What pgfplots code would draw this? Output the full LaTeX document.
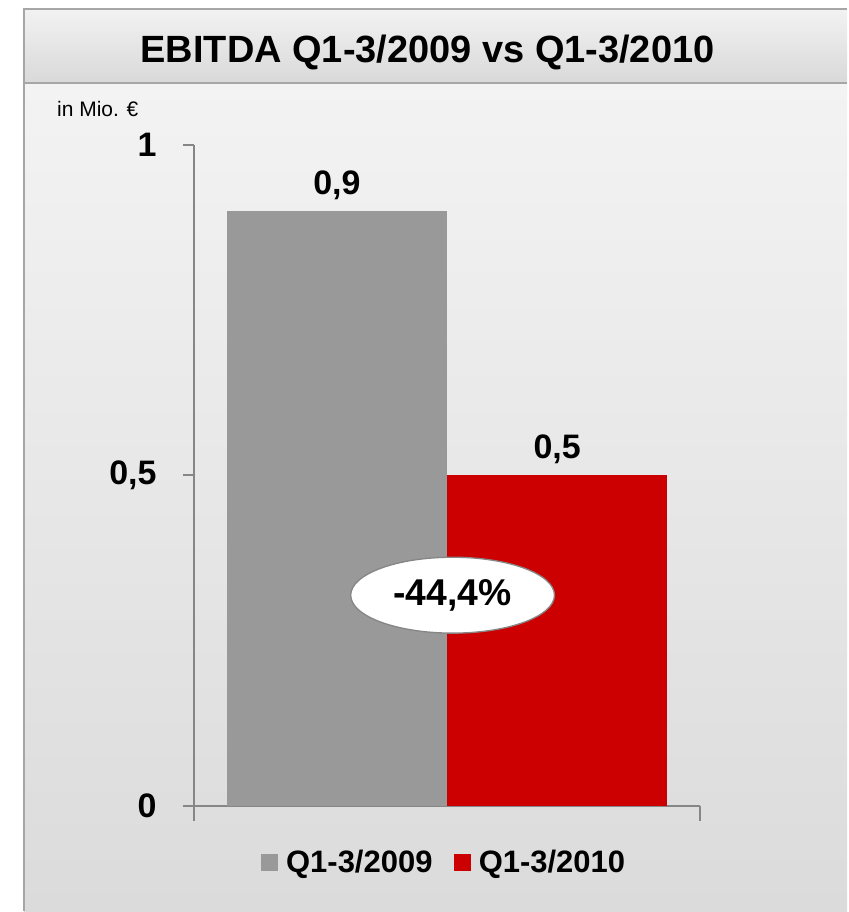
\documentclass[border=0pt]{standalone}
\usepackage{pgfplots}
\pgfplotsset{compat=1.18}
\usepackage{fontspec}
\setmainfont{Liberation Sans}
\usetikzlibrary{shapes.geometric}
\definecolor{axgray}{HTML}{868686}
\definecolor{bargray}{HTML}{999999}
\definecolor{barred}{HTML}{CC0000}
\definecolor{framegray}{HTML}{A6A6A6}
\definecolor{bgtop}{HTML}{F3F3F3}
\definecolor{bgbot}{HTML}{DBDBDB}
\definecolor{ttop}{HTML}{F2F2F2}
\definecolor{tbot}{HTML}{D9D9D9}
\begin{document}
\begin{tikzpicture}
\begin{scope}[x=0.75pt,y=-0.75pt]
\fill[white] (0,0) rectangle (848,912);
\shade[top color=bgtop, bottom color=bgbot] (24,83) rectangle (848,912);
\shade[top color=ttop, bottom color=tbot] (24,9) rectangle (848,83);
\draw[framegray, line width=1.5pt] (24,912) -- (24,9) -- (848,9);
\draw[framegray, line width=1.5pt] (24,83) -- (848,83);
\end{scope}
\begin{axis}[
  at={(145.5pt,-605.25pt)}, anchor=south west,
  scale only axis, width=380.25pt, height=496.5pt,
  xmin=0, xmax=1, ymin=0, ymax=1,
  axis x line*=bottom, axis y line*=left,
  axis line style={axgray, line width=1.5pt},
  xtick={0,1}, xticklabels={{},{}},
  ytick={0,0.5,1}, yticklabels={0,{0,5},1},
  tick align=outside, major tick length=8.25pt,
  xtick style={/pgfplots/major tick length=11.25pt},
  tick style={axgray, line width=1.5pt},
  yticklabel style={font=\fontsize{25.5}{30}\selectfont\bfseries, inner sep=0pt, anchor=east, xshift=-19.5pt},
  /pgf/number format/assume math mode=true,
  clip=false,
  legend columns=2,
  legend style={at={(rel axis cs:0.495,-0.0846)}, anchor=center, draw=none, fill=none,
    font=\fontsize{23.25}{28}\selectfont\bfseries,
    /tikz/every odd column/.append style={column sep=4pt},
    /tikz/every even column/.append style={column sep=14pt}},
  legend image code/.code={\fill[#1] (0pt,-6.4pt) rectangle (12.75pt,6.4pt);},
]
\addplot[ybar, bar shift=0pt, bar width=0.435, fill=bargray, draw=none,
  point meta=explicit symbolic, nodes near coords,
  nodes near coords style={font=\fontsize{25.5}{30}\selectfont\bfseries, anchor=south, yshift=5pt, text=black}]
  coordinates {(0.2825,0.9) [0,9]};
\addlegendentry{Q1-3/2009}
\addplot[ybar, bar shift=0pt, bar width=0.435, fill=barred, draw=none,
  point meta=explicit symbolic, nodes near coords,
  nodes near coords style={font=\fontsize{25.5}{30}\selectfont\bfseries, anchor=south, yshift=5pt, text=black}]
  coordinates {(0.7175,0.5) [0,5]};
\addlegendentry{Q1-3/2010}
\node[ellipse, draw=axgray, fill=white, line width=1pt, minimum width=153pt, minimum height=57pt, inner sep=0pt,
  font=\fontsize{28}{32}\selectfont\bfseries] at (axis cs:0.511,0.319) {-44,4\%};
\end{axis}
\begin{scope}[x=0.75pt,y=-0.75pt]
\node[anchor=base, inner sep=0pt, font=\fontsize{28.5}{34}\selectfont\bfseries] at (428,63) {EBITDA Q1-3/2009 vs Q1-3/2010};
\node[anchor=base west, inner sep=0pt, font=\fontsize{15.75}{19}\selectfont] at (57,117) {in Mio. €};
\end{scope}
\end{tikzpicture}
\end{document}
